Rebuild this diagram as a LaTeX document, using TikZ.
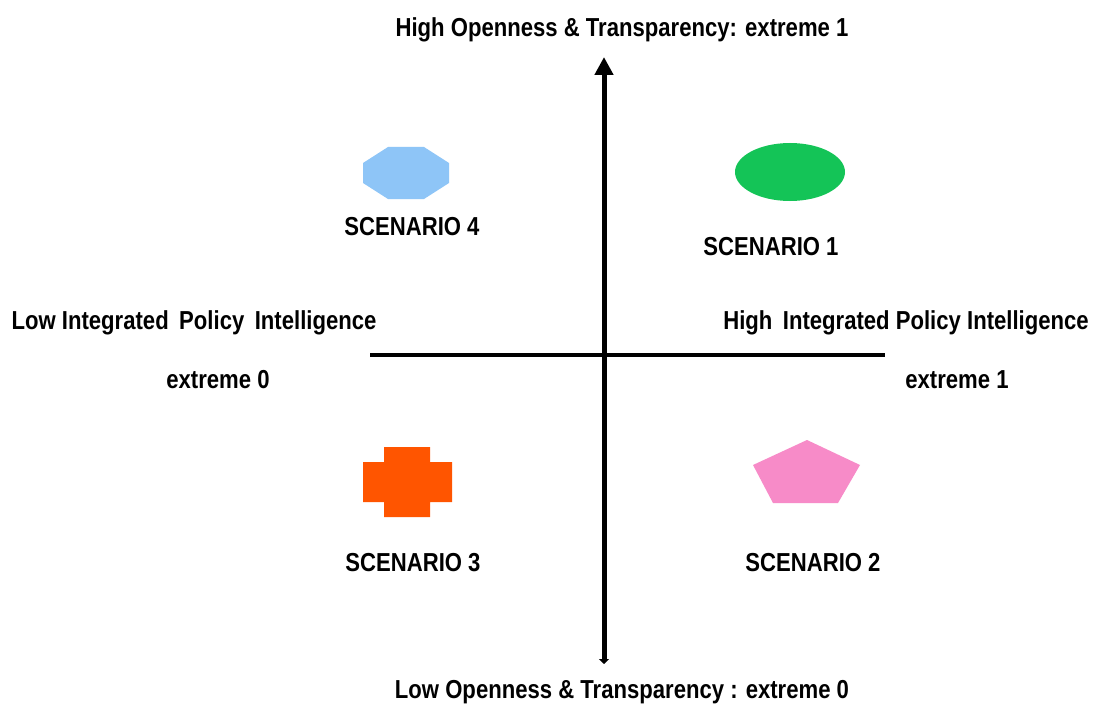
\documentclass[tikz,border=0pt]{standalone}
\usepackage{fontspec}
\setmainfont{Liberation Sans}[FakeStretch=0.85]
\usetikzlibrary{arrows.meta,shapes.geometric}
\definecolor{sblue}{HTML}{8EC5F7}
\definecolor{sgreen}{HTML}{14C457}
\definecolor{sorange}{HTML}{FF5500}
\definecolor{spink}{HTML}{F78BC8}
\tikzset{
  lbl/.style={font=\bfseries\fontsize{26bp}{30bp}\selectfont, text=black, inner sep=0pt, anchor=center},
  axisline/.style={line width=5bp, black},
}
\begin{document}
\begin{tikzpicture}[x=1bp,y=-1bp]
\useasboundingbox[fill=white] (0,0) rectangle (1094,706);
% axes
\coordinate (vtop) at (604,57);
\coordinate (vbot) at (604,664);
\coordinate (hl) at (370,355);
\coordinate (hr) at (885,355);
\draw[axisline, {Triangle[width=10bp,length=5bp]}-{Triangle[width=18bp,length=18bp]}] (vbot) -- (vtop);
\draw[line width=3.5bp] (hl) -- (hr);
% axis labels
\node[lbl] (top) at (622,30) {High Openness \& Transparency: extreme 1};
\node[lbl] (bot) at (622,692) {Low Openness \& Transparency : extreme 0};
\node[lbl] (left) at (194,323) {Low Integrated\, Policy\, Intelligence};
\node[lbl] (left0) at (218,380) {extreme 0};
\node[lbl] (right) at (906,323) {High\, Integrated Policy Intelligence};
\node[lbl] (right1) at (957,380) {extreme 1};
% scenario 4: octagon
\fill[sblue] (406,173) ++(43,-10) -- ++(-25,-16) -- ++(-36,0) -- ++(-25,16) -- ++(0,20) -- ++(25,16) -- ++(36,0) -- ++(25,-16) -- cycle;
\node[lbl] (s4) at (412,227) {SCENARIO 4};
% scenario 1: ellipse
\node[ellipse, fill=sgreen, minimum width=110bp, minimum height=58bp, inner sep=0pt] (e1) at (790,172) {};
\node[lbl] (s1) at (771,247) {SCENARIO 1};
% scenario 3: cross
\fill[sorange] (384,447) -- (430,447) -- (430,462) -- (452,462) -- (452,502) -- (430,502) -- (430,517) -- (384,517) -- (384,502) -- (363,502) -- (363,462) -- (384,462) -- cycle;
\node[lbl] (s3) at (413,563) {SCENARIO 3};
% scenario 2: pentagon
\fill[spink] (807,440) -- (860,465) -- (838,503) -- (773,503) -- (753,465) -- cycle;
\node[lbl] (s2) at (813,563) {SCENARIO 2};
\end{tikzpicture}
\end{document}
